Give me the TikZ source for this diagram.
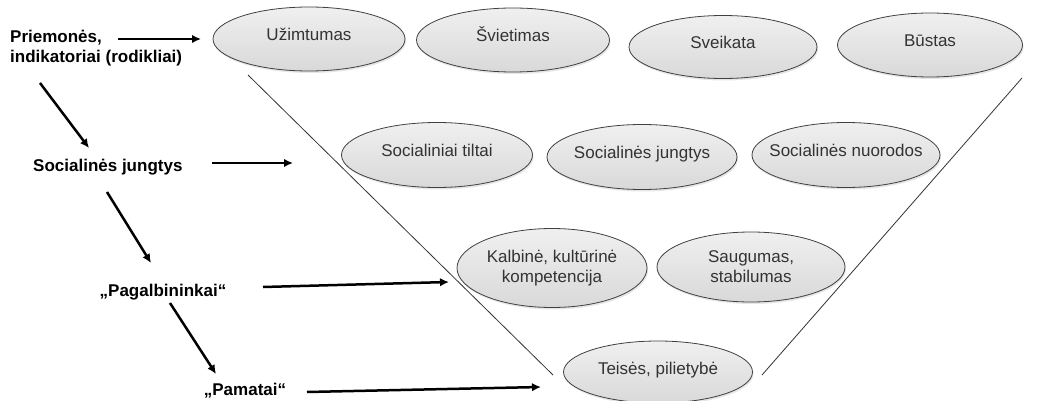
\documentclass[tikz,border=0pt]{standalone}
\usepackage{fontspec}
\setmainfont{Liberation Sans}
\usetikzlibrary{shapes.geometric,arrows.meta,shadows}
\begin{document}
\begin{tikzpicture}[x=1pt,y=-1pt,
  oval/.style={ellipse, draw=gray!50!black, line width=0.8pt,
    top color=gray!12, bottom color=gray!30, text=black!80,
    inner xsep=-40pt, inner ysep=0pt, align=center,
    font=\fontsize{17}{20}\selectfont,
    drop shadow={opacity=0.2,shadow xshift=1pt,shadow yshift=-2pt}},
  one/.style={text height=12pt, text depth=8pt},
  lbl/.style={font=\bfseries\fontsize{17}{20}\selectfont, inner sep=0pt, align=left},
  arr/.style={line width=2.5pt, -{Latex[length=9pt,width=8.5pt]}},
  guide/.style={draw=gray!40!black, line width=0.8pt}]
\useasboundingbox (0,0) rectangle (1037,401);

% ellipses
\node[oval,one,minimum width=192pt,minimum height=64pt] (uzim) at (309,39) {Užimtumas};
\node[oval,one,minimum width=193pt,minimum height=64pt] (svie) at (513,40) {Švietimas};
\node[oval,one,minimum width=188pt,minimum height=63pt] (sveik) at (723,47) {Sveikata};
\node[oval,one,minimum width=185pt,minimum height=64pt] (bust) at (930,45) {Būstas};

\node[oval,one,minimum width=191pt,minimum height=65pt] (tilt) at (437,155) {Socialiniai tiltai};
\node[oval,one,minimum width=190pt,minimum height=65pt] (jung) at (642,157) {Socialinės jungtys};
\node[oval,one,minimum width=188pt,minimum height=65pt] (nuor) at (846,155) {Socialinės nuorodos};

\node[oval,minimum width=190pt,minimum height=79pt] (kalb) at (552,268) {Kalbinė, kultūrinė\\kompetencija};
\node[oval,minimum width=188pt,minimum height=70pt] (saug) at (751,267) {Saugumas,\\stabilumas};

\node[oval,one,minimum width=189pt,minimum height=62pt] (teis) at (658,372) {Teisės, pilietybė};

% guide lines
\coordinate (gl1) at (248,75);
\coordinate (gl2) at (553,375);
\coordinate (gr1) at (1022,78);
\coordinate (gr2) at (762,375);
\draw[guide] (gl1) -- (gl2);
\draw[guide] (gr1) -- (gr2);

% left labels
\node[lbl,anchor=west] (prim) at (10,48) {Priemonės,\\indikatoriai (rodikliai)};
\node[lbl,anchor=west] (soc) at (33,167) {Socialinės jungtys};
\node[lbl] (pag) at (163,292) {„Pagalbininkai“};
\node[lbl] (pam) at (245,391) {„Pamatai“};

% arrow end points
\coordinate (a1s) at (118,39);  \coordinate (a1e) at (201,39);
\coordinate (a2s) at (40,83);   \coordinate (a2e) at (89,148);
\coordinate (a3s) at (212,163); \coordinate (a3e) at (293,163);
\coordinate (a4s) at (107,192); \coordinate (a4e) at (151,263);
\coordinate (a5s) at (263,287); \coordinate (a5e) at (449,282);
\coordinate (a6s) at (170,303); \coordinate (a6e) at (216,374);
\coordinate (a7s) at (307,392); \coordinate (a7e) at (541,387);

\draw[arr] (a1s) -- (a1e);
\draw[arr] (a2s) -- (a2e);
\draw[arr] (a3s) -- (a3e);
\draw[arr] (a4s) -- (a4e);
\draw[arr] (a5s) -- (a5e);
\draw[arr] (a6s) -- (a6e);
\draw[arr] (a7s) -- (a7e);
\end{tikzpicture}
\end{document}
